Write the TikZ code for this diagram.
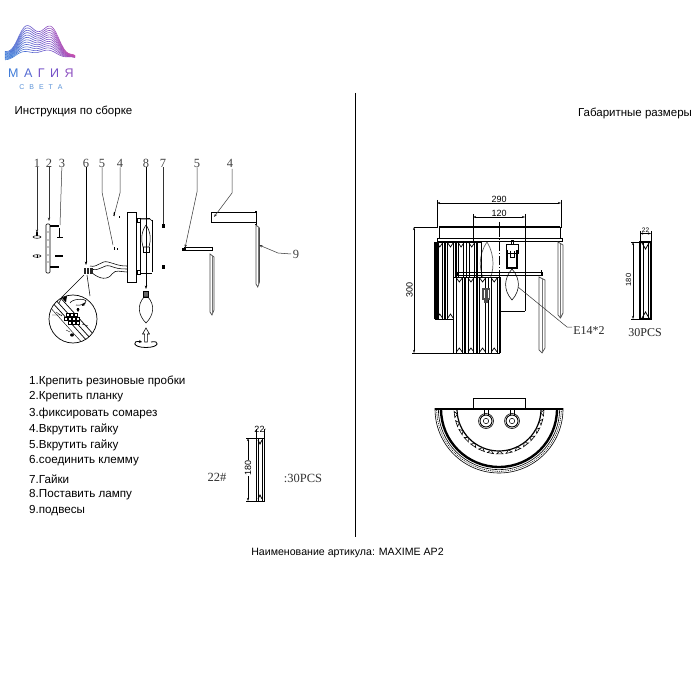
\documentclass[tikz,border=0pt]{standalone}
\usepackage{fontspec}
\setmainfont{Liberation Sans}
\newfontfamily\numfont{Liberation Serif}
\usetikzlibrary{arrows.meta,calc}
\definecolor{logoA}{HTML}{3F7BD8}
\definecolor{logoB}{HTML}{7450C8}
\definecolor{logoC}{HTML}{C850B0}
\definecolor{logoD}{HTML}{5B93D8}
\tikzset{
  body/.style={font=\fontsize{11.65}{13}\selectfont,anchor=west,inner sep=0pt},
  head/.style={font=\fontsize{11.5}{13}\selectfont,inner sep=0pt},
  num/.style={font=\numfont\fontsize{12.5}{14}\selectfont,text=black!75,inner sep=0pt},
  dimtext/.style={font=\fontsize{9}{10}\selectfont,inner sep=0pt},
  lead/.style={draw=black!80,line width=.5pt},
  leadarrow/.style={lead,-{Stealth[length=3.5pt,width=2.4pt]}},
  dimline/.style={draw=black,line width=.5pt,{Stealth[length=3pt,width=2pt]}-{Stealth[length=3pt,width=2pt]}},
  ext/.style={draw=black,line width=.45pt},
  part/.style={draw=black,line width=.55pt},
  thickpart/.style={draw=black,line width=1.2pt},
}
\newcommand{\crystal}[4]{% x0 y0 x1 y1 : thin drop seen side-on
  \draw[draw=black!70,line width=.7pt,fill=white] (#1,#2) -- (#3,{#2+3}) -- (#3,{#4-5}) -- ({(#1+#3)/2},#4) -- (#1,{#4-3}) -- cycle;
  \draw[draw=black!55,line width=.5pt] ({(#1+#3)/2},{#2+2}) -- ({(#1+#3)/2},{#4-1});
}
\newcommand{\crystalblock}[5]{% x0 y0 x1 y1 n
  \pgfmathsetmacro{\cw}{(#3-#1)/#5}
  \foreach \k in {1,...,#5}{
    \pgfmathsetmacro{\xa}{#1+(\k-1)*\cw}
    \pgfmathsetmacro{\xb}{\xa+\cw}
    \pgfmathsetmacro{\xc}{\xa+.5*\cw}
    \pgfmathsetmacro{\xl}{\xa+.25*\cw}
    \pgfmathsetmacro{\xr}{\xa+.75*\cw}
    \draw[line width=1.5pt] (\xa,#2) -- (\xa,#4);
    \draw[line width=.9pt] (\xl,#2) -- (\xl,#4);
    \draw[line width=.9pt] (\xr,#2) -- (\xr,#4);
    \draw[line width=.8pt] (\xa,#2) -- (\xb,#2);
    \draw[line width=.8pt] (\xa,#4) -- (\xb,#4);
    \draw[line width=.7pt] (\xl,{#2+1}) -- (\xc,{#2+5}) -- (\xr,{#2+1});
    \draw[line width=.7pt] (\xl,{#4-1}) -- (\xc,{#4-5}) -- (\xr,{#4-1});
  }
  \draw[line width=1.5pt] (#3,#2) -- (#3,#4);
}
\begin{document}
\begin{tikzpicture}[x=1pt,y=-1pt]
\useasboundingbox (0,0) rectangle (700,700);
\fill[white] (0,0) rectangle (700,700);

% ---------- logo ----------
\foreach \t in {0,...,11}{
  \foreach \s in {0,...,39}{
    \pgfmathsetmacro{\ua}{\s/40}
    \pgfmathsetmacro{\ub}{(\s+1)/40}
    \pgfmathsetmacro{\tt}{\t/11}
    \pgfmathsetmacro{\xa}{5+70*\ua}
    \pgfmathsetmacro{\xb}{5+70*\ub}
    \pgfmathsetmacro{\ya}{(1-\tt)*(59-8*sin(180*\ua)-1.5*cos(950*(\ua-.25)))+\tt*(52-27*sin(180*\ua)-5*cos(950*(\ua-.29))+7*\ua*\ua)}
    \pgfmathsetmacro{\yb}{(1-\tt)*(59-8*sin(180*\ub)-1.5*cos(950*(\ub-.25)))+\tt*(52-27*sin(180*\ub)-5*cos(950*(\ub-.29))+7*\ub*\ub)}
    \pgfmathsetmacro{\pa}{min(100,max(0,200*\ua+40*\tt-30))}
    \pgfmathsetmacro{\pb}{min(100,max(0,200*\ua+40*\tt-130))}
    \draw[line width=.6pt,color={logoC!\pb!logoB!\pa!logoA}] (\xa,\ya) -- (\xb,\yb);
  }
}
\node[inner sep=0pt,text=logoB,font=\fontsize{12.5}{14}\selectfont] (logoa) at (41,73) {\textcolor{logoA}{М}\hspace{5.5pt}\textcolor{logoA!60!logoB}{А}\hspace{5.5pt}Г\hspace{5.5pt}И\hspace{5.5pt}\textcolor{logoB!70!logoC}{Я}};
\node[inner sep=0pt,text=logoD,font=\fontsize{7}{8}\selectfont] (logob) at (41,87) {С\hspace{5pt}В\hspace{5pt}Е\hspace{5pt}Т\hspace{5pt}А};

% ---------- headings ----------
\node[head] (h1) at (73.5,111) {Инструкция по сборке};
\node[head] (h2) at (635,113) {Габаритные размеры};
\node[head,font=\fontsize{10.6}{13}\selectfont] (h3) at (347.5,553) {Наименование артикула: MAXIME AP2};
\draw[line width=.7pt] (355,93) -- (355,537);

% ---------- list ----------
\node[body] (l1) at (29,381) {1.Крепить резиновые пробки};
\node[body] (l2) at (29,397) {2.Крепить планку};
\node[body] (l3) at (29,413) {3.фиксировать сомарез};
\node[body] (l4) at (29,429) {4.Вкрутить гайку};
\node[body] (l5) at (29,445) {5.Вкрутить гайку};
\node[body] (l6) at (29,461) {6.соединить клемму};
\node[body] (l7) at (29,479) {7.Гайки};
\node[body] (l8) at (29,495) {8.Поставить лампу};
\node[body] (l9) at (29,511) {9.подвесы};

% ---------- assembly numbers ----------
\node[num] (n1) at (37,163) {1};
\node[num] (n2) at (49,163) {2};
\node[num] (n3) at (62,163) {3};
\node[num] (n6) at (86,163) {6};
\node[num] (n5a) at (102,163) {5};
\node[num] (n4a) at (120,163) {4};
\node[num] (n8) at (146,163) {8};
\node[num] (n7) at (163,163) {7};
\node[num] (n5b) at (197,163) {5};
\node[num] (n4b) at (230,163) {4};
\node[num] (n9) at (296,254) {9};

% wall plate with plugs and screws
\draw[part,fill=white,line width=.7pt,rounded corners=1pt] (46,224) rectangle (50,273);
\foreach \yy in {232,240,247,255,262}{\fill (48,\yy) circle (.7);}
\draw[thickpart] (50,226) -- (59,226);
\draw[thickpart] (55,256) -- (63,256);
\draw[thickpart] (50,267) -- (59,267);
\draw[thickpart] (59.5,228) -- (59.5,237);
\draw[thickpart] (57,237.5) -- (63,237.5);
\draw[thickpart] (37,232) -- (37,236);
\draw[part] (37,237) ellipse (4 and 1.3);
\draw[part] (37,256) ellipse (4 and 1.3);
\draw[part] (37,254.5) -- (37,257.5);

\draw[leadarrow] (n1) -- (37,233);
\draw[leadarrow] (n2) -- (49,221);
\draw[lead] (n3) -- (60,225);

\draw[lead] (n4a) -- (120,193) -- (115,212);
\draw[thickpart] (114.5,212) -- (114,216);
\fill (118.5,216) rectangle (119.5,218);
\draw[lead] (n5a) -- (102,192) -- (113,245);
\fill (113.5,247) rectangle (114.6,250);
\fill (116.5,248) rectangle (117.6,250);

% backplate and lamp holder
\draw[part,line width=.7pt] (127,212) rectangle (136,282);
\draw[part] (137,218) rectangle (140,222);
\draw[part] (137,270) rectangle (140,274);
\draw[part] (140,218) -- (140,273);
\draw[part] (140,218) to[out=0,in=180] (150,218);
\draw[part] (152,220) -- (152,272);
\draw[part] (140,273) -- (152,273);
\draw[part] (140,219) -- (150,219) -- (152,221);
\draw[part] (146,225) .. controls (141,232) and (141,240) .. (143,247) -- (149,247) .. controls (151,240) and (151,232) .. (146,225);
\draw[part] (143,247) -- (143,252) -- (149,252) -- (149,247);
\draw[leadarrow,draw=black] (n8) -- (146,289);
\fill (161.5,224) rectangle (164.5,228);
\fill (161.5,265) rectangle (164.5,269);
\draw[lead] (n7) -- (163,224);

% wires
\draw[part] (90,266) .. controls (98,268) and (101,260) .. (108,262) .. controls (116,264) and (118,266) .. (127,266);
\draw[part] (91,269) .. controls (100,272) and (103,264) .. (110,266) .. controls (116,268) and (118,269) .. (127,269);
\draw[part] (91,272) .. controls (100,280) and (108,280) .. (112,274) .. controls (116,269) and (120,272) .. (127,272);
\draw[leadarrow,draw=black] (n6) -- (86,265);
\fill[black!85] (84,268) rectangle (93,274);
\draw[white,line width=.4pt] (86,268) -- (86,274) (89,268) -- (89,274);
% magnifier
\coordinate (magc) at (73,319);
\draw[part,line width=.7pt] (magc) circle (24);
\draw[part] (84,275) -- (62,297);
\draw[part] (87,275) -- (90,296);
\begin{scope}
\clip (magc) circle (24);
\draw[line width=.7pt] (50,300) -- (88,342);
\draw[line width=.7pt] (53,297) -- (91,339);
\draw[line width=.7pt] (57,294) -- (95,336);
\draw[line width=.4pt] (48,305) -- (85,346);
\end{scope}
\foreach \a/\b in {66/313,70/313,74/313,64/317,68/317,72/317,76/317,68/321,72/321,76/321}{
  \draw[line width=.9pt,fill=white] (\a,\b) rectangle ++(3,3);
}
\fill (62,298) -- (67,296) -- (66,302) -- cycle;
\draw[part] (59,303) -- (62,297) -- (66,302);
\draw[part] (70,303) .. controls (72,299) and (84,298) .. (86,301) .. controls (86,304) and (80,306) .. (76,305);
\draw[thickpart,-{Stealth[length=3pt,width=3pt]}] (78,308) -- (78,312);
\draw[thickpart,-{Stealth[length=3pt,width=3pt]}] (85,303) -- (82,306);
\draw[line width=.4pt] (52,315) -- (62,315) (56,312) -- (62,316);
\draw[line width=.4pt] (82,324) -- (88,326);
\draw[line width=.4pt] (66,330) -- (70,332);
\fill (72,335) ellipse (2 and 1.6);

% bulb
\draw[part,fill=black!60] (143.5,291) rectangle (148.5,297);
\draw[part] (144,297) .. controls (137,305) and (138,315) .. (146,323) .. controls (154,315) and (155,305) .. (148,297) -- cycle;
\draw[part,fill=white] (144.6,342) -- (144.6,334) -- (142.5,334) -- (146,328) -- (149.5,334) -- (147.4,334) -- (147.4,342) -- cycle;
\draw[line width=.8pt,-{Stealth[length=3pt,width=3pt]}] (151,342) .. controls (160,340) and (160,347.5) .. (146,347.5) .. controls (132,347.5) and (132,340) .. (142,342);

% arm pieces
\draw[part] (184,247.5) -- (212,247.5) (184,250) -- (212,250);
\draw[part] (212,247) -- (212,251);
\fill (182,248) rectangle (185.5,251);
\crystal{210}{254}{214}{315}
\draw[part,line width=.9pt] (211,212) rectangle (256,222);
\draw[part] (255,211) -- (257,211) (256,211) -- (256,224) (255,224) -- (257,224);
\crystal{256}{225}{259.5}{287}
\draw[leadarrow] (n5b) -- (197,192) -- (185,248);
\draw[leadarrow] (n4b) ++(2,6) -- (232,193) -- (214,217);
\draw[leadarrow] (n9) ++(-5,0) -- (278,253) -- (259,245);

% small crystal, left
\draw[line width=1pt] (256,438) rectangle (264,501);
\draw[line width=.6pt] (258,438) -- (258,501) (262,438) -- (262,501);
\draw[line width=.7pt] (258,440) -- (260,444) -- (262,440);
\draw[line width=.7pt] (258,499) -- (260,495) -- (262,499);
\draw[dimline] (254,429) -- (266,429);
\node[dimtext,fill=white,inner xsep=.5pt] (d22a) at (259.5,429) {22};
\draw[ext] (256,429) -- (256,438) (264,429) -- (264,438);
\draw[dimline] (248,438) -- (248,501);
\draw[ext] (246,438) -- (256,438) (246,501) -- (256,501);
\node[dimtext,rotate=90,fill=white,inner ysep=.5pt] (d180a) at (248,468) {180};
\node[font=\numfont\fontsize{12.5}{14}\selectfont,inner sep=0pt,text=black!80] (n22) at (217,477.5) {22\#};
\node[font=\numfont\fontsize{12.5}{14}\selectfont,inner sep=0pt,text=black!80] (n30a) at (303,478) {:30PCS};

% ---------- front view ----------
\draw[ext] (437,200) -- (437,228) (561,200) -- (561,228);
\draw[dimline] (437,203) -- (561,203);
\node[dimtext,anchor=south,inner ysep=.5pt] (d290) at (499,203) {290};
\draw[ext] (473,214) -- (473,242) (525,214) -- (525,311);
\draw[dimline] (473,217) -- (525,217);
\node[dimtext,anchor=south,inner ysep=.5pt] (d120) at (499,217) {120};
\draw[ext] (483,311) -- (525,311);
\draw[ext] (414,227) -- (438,227);
\draw[ext] (412,353) -- (455,353);
\draw[dimline] (414,227) -- (414,353);
\node[dimtext,rotate=90] (d300) at (409.5,290) {300};
\draw[ext] (499,222) -- (499,228);
\draw[ext,dash pattern=on 9pt off 2pt on 1pt off 2pt] (499,228) -- (499,310);
% canopy
\draw[line width=1.4pt] (439,227) -- (560,227);
\draw[line width=.6pt] (439,227) -- (439,238) (560,227) -- (560,238);
\draw[line width=.6pt] (437,238.5) rectangle (562,241);
% right-hand crystals
\crystal{558}{242}{563}{318}
\crystal{539}{277}{545}{353}
% bulbs
\draw[draw=black!60,line width=.7pt] (487,242) .. controls (478,255) and (478,272) .. (487,285) .. controls (495,272) and (495,255) .. (487,242);
\draw[line width=.5pt] (511,244) rectangle (513,240.5);
\draw[line width=.7pt,fill=white] (506,244) rectangle (518,253);
\draw[line width=1.1pt] (507,250) -- (507,268) -- (517,268) -- (517,250);
\draw[line width=.6pt] (510,251) -- (510,257) -- (514,257) -- (514,251);
\draw[line width=.55pt] (512,269) .. controls (504,278) and (503,290) .. (512,300) .. controls (521,290) and (520,278) .. (512,269);
% crystal blocks
\crystalblock{434.5}{242}{477}{319}{4}
\fill (434.5,242) rectangle (439,319);
\draw[line width=.6pt] (477,242) -- (481,242) -- (481,319) -- (477,319);
\fill[black!60,opacity=.7] (457,278) rectangle (481,319);
\draw[line width=.7pt] (457,272) rectangle (542,275);
\draw[thickpart] (541.5,270) -- (541.5,276);
\fill[white] (453,277) rectangle (500,353);
\crystalblock{453.5}{277}{500}{353}{4}
\fill[black!70] (482,288) rectangle (490,300);
\fill[black!70] (484,300) rectangle (488,303);
\draw[white,line width=.5pt] (484,290) -- (484,298) (488,290) -- (488,298);
\draw[lead] (518,287) -- (567,327) -- (572,327);
\node[font=\numfont\fontsize{12}{13}\selectfont,inner sep=0pt,text=black!85] (e14) at (589,331) {E14*2};

% ---------- side crystal ----------
\draw[line width=1.1pt] (640,242) rectangle (651,319);
\draw[line width=.6pt] (643,242) -- (643,319) (648,242) -- (648,319);
\draw[line width=.8pt] (642,243) -- (645.5,249) -- (649,243);
\draw[line width=.8pt] (642,318) -- (645.5,312) -- (649,318);
\draw[ext] (640,231) -- (640,242) (651,231) -- (651,242);
\draw[dimline] (640,233.5) -- (651,233.5);
\node[font=\fontsize{6.5}{7}\selectfont,inner sep=0pt] (d22b) at (645.5,230.5) {22};
\draw[ext] (631,242) -- (640,242) (631,319) -- (640,319);
\draw[dimline] (633,242) -- (633,319);
\node[font=\fontsize{7.5}{8}\selectfont,rotate=90,inner sep=0pt] (d180b) at (628.5,280) {180};
\node[font=\numfont\fontsize{12}{14}\selectfont,inner sep=0pt,text=black!85] (n30b) at (645,332.5) {30PCS};

% ---------- top view ----------
\draw[line width=.7pt] (473,409) -- (473,398) -- (525,398) -- (525,409);
\begin{scope}
\clip (430,408) rectangle (570,480);
\draw[line width=.6pt] (499,409) circle (64);
\draw[line width=.6pt,dash pattern=on 1.2pt off 1pt] (499,409) circle (62.3);
\draw[line width=.6pt] (499,409) circle (60.6);
\draw[line width=2.4pt] (499,409) circle (58);
\draw[line width=1.2pt] (499,409) circle (42);
\foreach \a in {5,17,...,175}{
  \draw[line width=.6pt,fill=white] ($(499,409)+(\a:42)$) -- ($(499,409)+(\a-4:45)$) -- ($(499,409)+(\a+4:45)$) -- cycle;
}
\end{scope}
\draw[line width=1.7pt] (435,409) -- (563,409);
\draw[line width=.5pt] (484.5,409) -- (484.5,415) (488,409) -- (488,415);
\draw[line width=.5pt] (510.5,409) -- (510.5,415) (514,409) -- (514,415);
\draw[line width=.6pt] (486,421) circle (7.5);
\draw[line width=.9pt] (486,421) circle (6);
\draw[line width=.5pt] (486,421) circle (2.7);
\draw[line width=.6pt] (512,421) circle (7.5);
\draw[line width=.9pt] (512,421) circle (6);
\draw[line width=.5pt] (512,421) circle (2.7);
\end{tikzpicture}
\end{document}
